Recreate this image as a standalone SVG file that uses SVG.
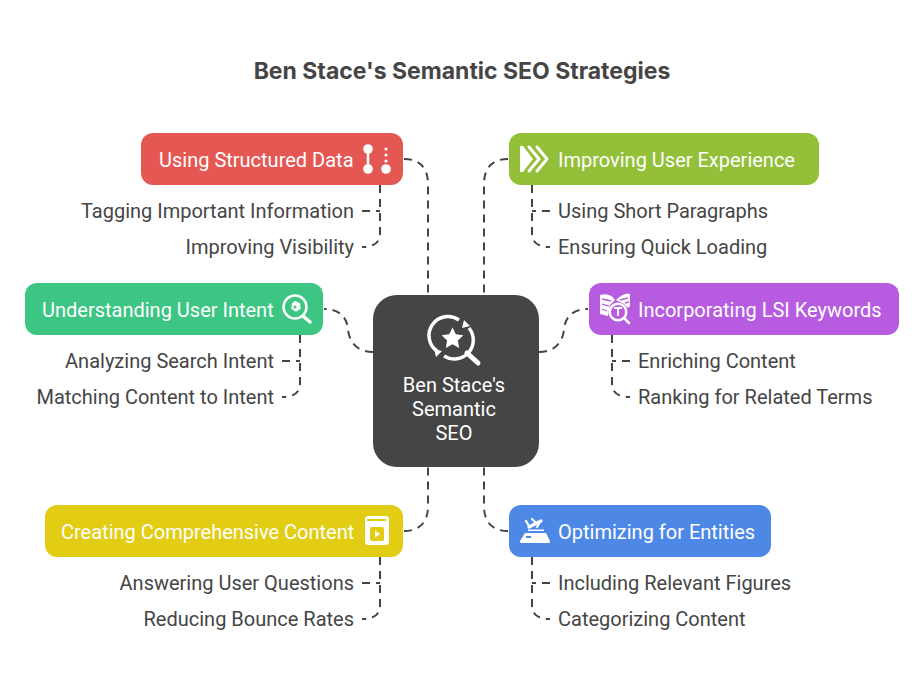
<svg xmlns="http://www.w3.org/2000/svg" width="924" height="678" viewBox="0 0 924 678">
<style>
text{font-family:Roboto,"Liberation Sans",sans-serif}
.t{font-family:Inter,Roboto,sans-serif;font-size:23px;font-weight:700;fill:#454545;text-anchor:middle}
.n{font-size:20px;fill:#fff}
.s{font-size:20px;fill:#454545}
.e{text-anchor:end}
.c{font-size:20px;fill:#fff;text-anchor:middle}
.l{fill:none;stroke:#454545;stroke-width:2;stroke-dasharray:8 6}
.i{fill:none;stroke:#fff;stroke-width:2.500;stroke-linecap:round;stroke-linejoin:round}
.f{fill:#fff}
</style>
<rect width="924" height="678" fill="#fff"/>
<text class="t" x="462" y="79">Ben Stace's Semantic SEO Strategies</text>
<g id="connectors">
<path class="l" d="M404 159C420 159 428 168 428 184V295"/>
<path class="l" d="M380 185V233C380 243 374 247 362 247"/>
<path class="l" d="M362 211H380"/>
<path class="l" d="M508 159C492 159 484 168 484 184V295"/>
<path class="l" d="M532 185V233C532 243 538 247 550 247"/>
<path class="l" d="M550 211H532"/>
<path class="l" d="M373 352C357 352 349 342 348 329C347 318 340 309 324 309"/>
<path class="l" d="M300 335V383C300 393 294 397 282 397"/>
<path class="l" d="M282 361H300"/>
<path class="l" d="M539 352C555 352 563 342 564 329C565 318 572 309 588 309"/>
<path class="l" d="M612 335V383C612 393 618 397 630 397"/>
<path class="l" d="M630 361H612"/>
<path class="l" d="M404 531C420 531 428 522 428 506V467"/>
<path class="l" d="M380 557V605C380 615 374 619 362 619"/>
<path class="l" d="M362 583H380"/>
<path class="l" d="M508 531C492 531 484 522 484 506V467"/>
<path class="l" d="M532 557V605C532 615 538 619 550 619"/>
<path class="l" d="M550 583H532"/>
</g>
<g id="center">
<rect x="373" y="295" width="166" height="172" rx="24" fill="#454545"/>
<path class="i" style="stroke-width:3.500;stroke-linecap:butt" d="M437 351A19 19 0 0 1 459 320M469 328A19 19 0 0 1 444 356"/>
<path class="f" d="M464 320l6 6-8 2zM434 349l8 2-6 6z"/>
<path class="f" d="M452.500 327.500l3.300 6.800 7.500 1-5.400 5.200 1.300 7.400-6.700-3.600-6.700 3.600 1.300-7.400-5.400-5.200 7.500-1z"/>
<path class="i" style="stroke-width:5" d="M467 353L478 363"/>
<text class="c" x="454" y="392">Ben Stace's</text>
<text class="c" x="454" y="416">Semantic</text>
<text class="c" x="454" y="440">SEO</text>
</g>
<g id="structured-data">
<rect x="141" y="133" width="262" height="52" rx="12" fill="#e55753"/>
<text class="n" x="159" y="167">Using Structured Data</text>
<path class="i" d="M368 149V169"/><circle class="f" cx="368" cy="149" r="4.800"/><circle class="f" cx="368" cy="169" r="4.800"/>
<circle class="f" cx="386" cy="149" r="1.600"/><circle class="f" cx="386" cy="155" r="1.600"/><circle class="f" cx="386" cy="161" r="1.600"/><circle class="f" cx="386" cy="169" r="4.800"/>
<text class="s e" x="354" y="218">Tagging Important Information</text>
<text class="s e" x="354" y="254">Improving Visibility</text>
</g>
<g id="user-experience">
<rect x="509" y="133" width="310" height="52" rx="12" fill="#93bf39"/>
<path class="f" d="M520 146h3l10 13-10 13h-3z"/>
<path class="i" d="M529 147L539 159L529 171M537 147L547 159L537 171" style="stroke-width:3"/>
<text class="n" x="558" y="167">Improving User Experience</text>
<text class="s" x="558" y="218">Using Short Paragraphs</text>
<text class="s" x="558" y="254">Ensuring Quick Loading</text>
</g>
<g id="user-intent">
<rect x="25" y="283" width="298" height="52" rx="12" fill="#3cc583"/>
<text class="n" x="42" y="317">Understanding User Intent</text>
<circle class="i" cx="295" cy="307" r="11.500"/>
<path class="i" style="stroke-width:3.500" d="M303 316L310 322"/>
<path class="f" d="M293.500 301h3l.5 1.800 1.700-.7 2 2.300-1.200 1.400 1.500 1.200-1 2.700-1.800-.2-.4 1.800h-3.600l-.4-1.800-1.800.2-1-2.700 1.500-1.200-1.200-1.400 2-2.300 1.700.7z"/>
<circle cx="295" cy="307" r="1.500" fill="#3cc583"/>
<text class="s e" x="274" y="368">Analyzing Search Intent</text>
<text class="s e" x="274" y="404">Matching Content to Intent</text>
</g>
<g id="lsi-keywords">
<rect x="589" y="283" width="310" height="52" rx="12" fill="#b75ce0"/>
<path class="f" d="M600 295C607 293 612 295 615 300L610 305L608 316L600 314zM630 294C625 293 620 296 616 300L624 304L628 308L630 306z"/>
<path fill="none" stroke="#b75ce0" stroke-width="1.300" d="M602 299L611 301M602 304L609 306M602 309L607 311M620 300L628 298M625 303L629 302"/>
<circle cx="618" cy="312" r="9.500" fill="#b75ce0"/>
<circle class="i" cx="618" cy="312" r="8.300"/>
<path class="i" d="M624 318L629 323"/>
<path class="i" style="stroke-width:1.800;stroke-linecap:butt" d="M614 308H622M618 308V316"/>
<text class="n" x="638" y="317">Incorporating LSI Keywords</text>
<text class="s" x="638" y="368">Enriching Content</text>
<text class="s" x="638" y="404">Ranking for Related Terms</text>
</g>
<g id="comprehensive-content">
<rect x="45" y="505" width="358" height="52" rx="12" fill="#e2cd14"/>
<text class="n" x="61" y="539">Creating Comprehensive Content</text>
<rect x="365" y="516" width="24" height="29" rx="3.500" fill="#fff"/>
<rect x="367" y="519" width="19" height="2" fill="#e2cd14"/>
<rect x="370" y="527" width="14" height="14" rx="2" fill="#e2cd14"/>
<path class="f" d="M375 530.500l5 3.500-5 3.500z"/>
<text class="s e" x="354" y="590">Answering User Questions</text>
<text class="s e" x="354" y="626">Reducing Bounce Rates</text>
</g>
<g id="entities">
<rect x="509" y="505" width="262" height="52" rx="12" fill="#4e88e7"/>
<path class="f" d="M525 533h21l4 8q.5 2-2 2h-26q-2.500 0-2-2zM526 536v2h5v-2z" fill-rule="evenodd"/>
<path class="f" d="M528 529.500h16v1.500h-16z"/>
<path class="i" style="stroke-width:3.200" d="M529 527L541 521"/>
<path class="i" style="stroke-width:2.200" d="M526 521L529 526M532 519L536 523M537 527L539 524"/>
<text class="n" x="558" y="539">Optimizing for Entities</text>
<text class="s" x="558" y="590">Including Relevant Figures</text>
<text class="s" x="558" y="626">Categorizing Content</text>
</g>
</svg>
